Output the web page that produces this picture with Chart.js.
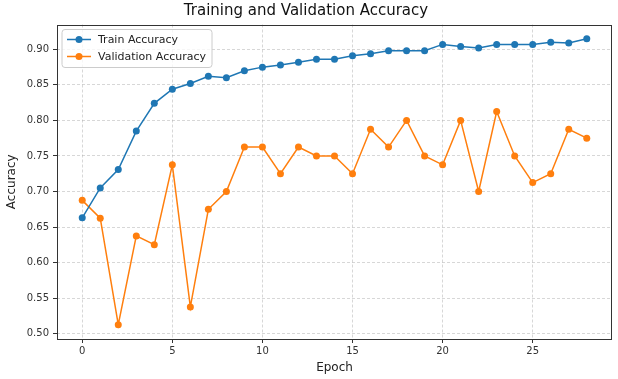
<!DOCTYPE html>
<html>
<head>
<meta charset="utf-8">
<script src="https://cdn.jsdelivr.net/npm/chart.js@4"></script>
<style>
  html, body { margin: 0; padding: 0; background: #fff; }
  #wrap { width: 618px; height: 379px; }
</style>
</head>
<body>
<div id="wrap"><canvas id="chart" width="618" height="379"></canvas></div>
<script>
// epochs 0..28
const epochs = [0, 1, 2, 3, 4, 5, 6, 7, 8, 9, 10, 11, 12, 13, 14, 15, 16, 17, 18, 19, 20, 21, 22, 23, 24, 25, 26, 27, 28];
const trainAcc = [0.663, 0.705, 0.731, 0.785, 0.824, 0.844, 0.852, 0.862, 0.860, 0.870, 0.875, 0.878, 0.882, 0.886, 0.886,
  0.891, 0.894, 0.898, 0.898, 0.898, 0.907, 0.904, 0.902, 0.907, 0.907, 0.907, 0.910, 0.909, 0.915];
const valAcc = [0.6875, 0.6625, 0.5125, 0.6375, 0.625, 0.7375, 0.5375, 0.675, 0.70, 0.7625, 0.7625, 0.725, 0.7625, 0.75, 0.75,
  0.725, 0.7875, 0.7625, 0.80, 0.75, 0.7375, 0.80, 0.70, 0.8125, 0.75, 0.7125, 0.725, 0.7875, 0.775];
const xTicks = [0, 5, 10, 15, 20, 25];
const yTicks = [0.50, 0.55, 0.60, 0.65, 0.70, 0.75, 0.80, 0.85, 0.90];

const FONT = "'DejaVu Sans', sans-serif";
const gridColor = "rgba(176,176,176,0.5)";

// draw the full frame and the legend inside the plot, like matplotlib does
const frameAndLegend = {
  id: "frameAndLegend",
  afterDatasetsDraw(chart) {
    const { ctx, chartArea: a } = chart;
    ctx.save();
    ctx.strokeStyle = "#333";
    ctx.lineWidth = 1;
    ctx.strokeRect(Math.round(a.left) + 0.5, Math.round(a.top) + 0.5,
      Math.round(a.right - a.left) - 1, Math.round(a.bottom - a.top) - 1);

    // legend
    const x = a.left + 5, y = a.top + 5, w = 150, h = 38;
    ctx.beginPath();
    ctx.roundRect(x, y, w, h, 3);
    ctx.fillStyle = "rgba(255,255,255,0.8)";
    ctx.fill();
    ctx.strokeStyle = "#cccccc";
    ctx.stroke();
    ctx.font = "11px " + FONT;
    ctx.textBaseline = "middle";
    chart.data.datasets.forEach((ds, i) => {
      const ry = y + 10 + i * 17;
      ctx.strokeStyle = ds.borderColor;
      ctx.lineWidth = 1.5;
      ctx.beginPath();
      ctx.moveTo(x + 5, ry);
      ctx.lineTo(x + 29, ry);
      ctx.stroke();
      ctx.fillStyle = ds.borderColor;
      ctx.beginPath();
      ctx.arc(x + 17, ry, 3.5, 0, Math.PI * 2);
      ctx.fill();
      ctx.fillStyle = "#222";
      ctx.fillText(ds.label, x + 36, ry + 1);
    });
    ctx.restore();
  }
};

new Chart(document.getElementById("chart"), {
  type: "line",
  data: {
    datasets: [
      {
        label: "Train Accuracy",
        data: epochs.map((e, i) => ({ x: e, y: trainAcc[i] })),
        borderColor: "#1f77b4",
        backgroundColor: "#1f77b4",
        borderWidth: 1.5,
        pointRadius: 3.5,
        pointHoverRadius: 3.5,
        pointBorderWidth: 0,
        tension: 0
      },
      {
        label: "Validation Accuracy",
        data: epochs.map((e, i) => ({ x: e, y: valAcc[i] })),
        borderColor: "#ff7f0e",
        backgroundColor: "#ff7f0e",
        borderWidth: 1.5,
        pointRadius: 3.5,
        pointHoverRadius: 3.5,
        pointBorderWidth: 0,
        tension: 0
      }
    ]
  },
  options: {
    responsive: false,
    animation: false,
    layout: { padding: { left: 0, right: 6, top: 0, bottom: 0 } },
    plugins: {
      legend: { display: false },
      tooltip: { enabled: false },
      title: {
        display: true,
        text: "Training and Validation Accuracy",
        color: "#111",
        font: { family: FONT, size: 15, weight: "normal" },
        padding: { top: 2, bottom: 4.5 }
      }
    },
    scales: {
      x: {
        type: "linear",
        min: -1.4,
        max: 29.4,
        afterBuildTicks: (s) => { s.ticks = xTicks.map(v => ({ value: v })); },
        afterFit: (s) => { s.height = 40; },
        ticks: { color: "#333", font: { family: FONT, size: 10 }, padding: 2 },
        grid: {
          color: gridColor, borderDash: [3, 2], tickColor: "#333",
          tickBorderDash: [], tickLength: 4, drawOnChartArea: true
        },
        border: { display: false, dash: [3, 2] },
        title: {
          display: true, text: "Epoch", color: "#222",
          font: { family: FONT, size: 12 }, padding: { top: 0, bottom: 4 }
        }
      },
      y: {
        min: 0.4924,
        max: 0.935,
        afterBuildTicks: (s) => { s.ticks = yTicks.map(v => ({ value: v })); },
        afterFit: (s) => { s.width = 57; },
        ticks: {
          color: "#333", font: { family: FONT, size: 10 }, padding: 4,
          callback: (v) => v.toFixed(2)
        },
        grid: {
          color: gridColor, tickColor: "#333", tickBorderDash: [], tickLength: 4
        },
        border: { display: false, dash: [3, 2] },
        title: {
          display: true, text: "Accuracy", color: "#222",
          font: { family: FONT, size: 12 }, padding: { top: 5, bottom: 0 }
        }
      }
    }
  },
  plugins: [frameAndLegend]
});
</script>
</body>
</html>
